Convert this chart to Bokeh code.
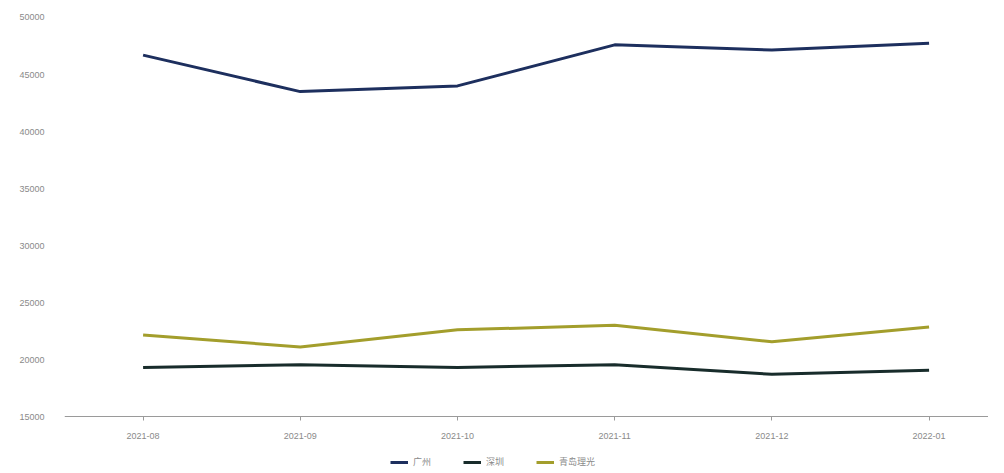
from bokeh.plotting import figure
from bokeh.models import Range1d, FixedTicker, Legend, LegendItem
from bokeh.embed import file_html
from bokeh.resources import INLINE

months = ["2021-08", "2021-09", "2021-10", "2021-11", "2021-12", "2022-01"]
series_names = ["广州", "深圳", "青岛理光"]
s1 = [46700, 43500, 44000, 47600, 47150, 47750]
s2 = [19300, 19550, 19300, 19550, 18700, 19050]
s3 = [22150, 21100, 22600, 23000, 21550, 22850]
y_ticks = [15000, 20000, 25000, 30000, 35000, 40000, 45000, 50000]
colors = ["#1d2f5e", "#182c2b", "#a39e2c"]

xs = list(range(len(months)))

p = figure(frame_width=924, frame_height=458, output_backend="svg", toolbar_location=None,
           x_range=Range1d(-0.5, 5.378), y_range=Range1d(10439, 50614),
           min_border_left=64, min_border_right=0, min_border_top=10, min_border_bottom=0)
p.outline_line_color = None
p.xgrid.visible = False
p.ygrid.visible = False
p.background_fill_color = "white"

renderers = []
for vals, c in zip([s1, s2, s3], colors):
    r = p.line(xs, vals, line_color=c, line_width=3)
    renderers.append(r)

p.xaxis.fixed_location = y_ticks[0]
p.xaxis.ticker = FixedTicker(ticks=xs)
p.xaxis.major_label_overrides = {i: m for i, m in enumerate(months)}
p.xaxis.axis_line_color = "#9a9a9a"
p.xaxis.major_tick_line_color = "#9a9a9a"
p.xaxis.major_tick_in = 0
p.xaxis.major_tick_out = 4
p.xaxis.minor_tick_line_color = None
p.xaxis.major_label_text_font_size = "9px"
p.xaxis.major_label_text_color = "#8a8a8a"
p.xaxis.major_label_standoff = 12

p.yaxis.ticker = FixedTicker(ticks=y_ticks)
p.yaxis.axis_line_color = None
p.yaxis.major_tick_line_color = None
p.yaxis.minor_tick_line_color = None
p.yaxis.major_label_text_font_size = "9px"
p.yaxis.major_label_text_color = "#8a8a8a"
p.yaxis.major_label_standoff = 14

legend = Legend(items=[LegendItem(label=n, renderers=[r]) for n, r in zip(series_names, renderers)],
                orientation="horizontal", location=(326, 0),
                label_text_font="Noto Sans CJK SC", label_text_font_size="9px",
                label_text_color="#8a8a8a", glyph_width=18, glyph_height=8,
                spacing=30, border_line_color=None, background_fill_alpha=0,
                padding=2, margin=0)
p.add_layout(legend)

open("out.html", "w").write(file_html(p, INLINE))
